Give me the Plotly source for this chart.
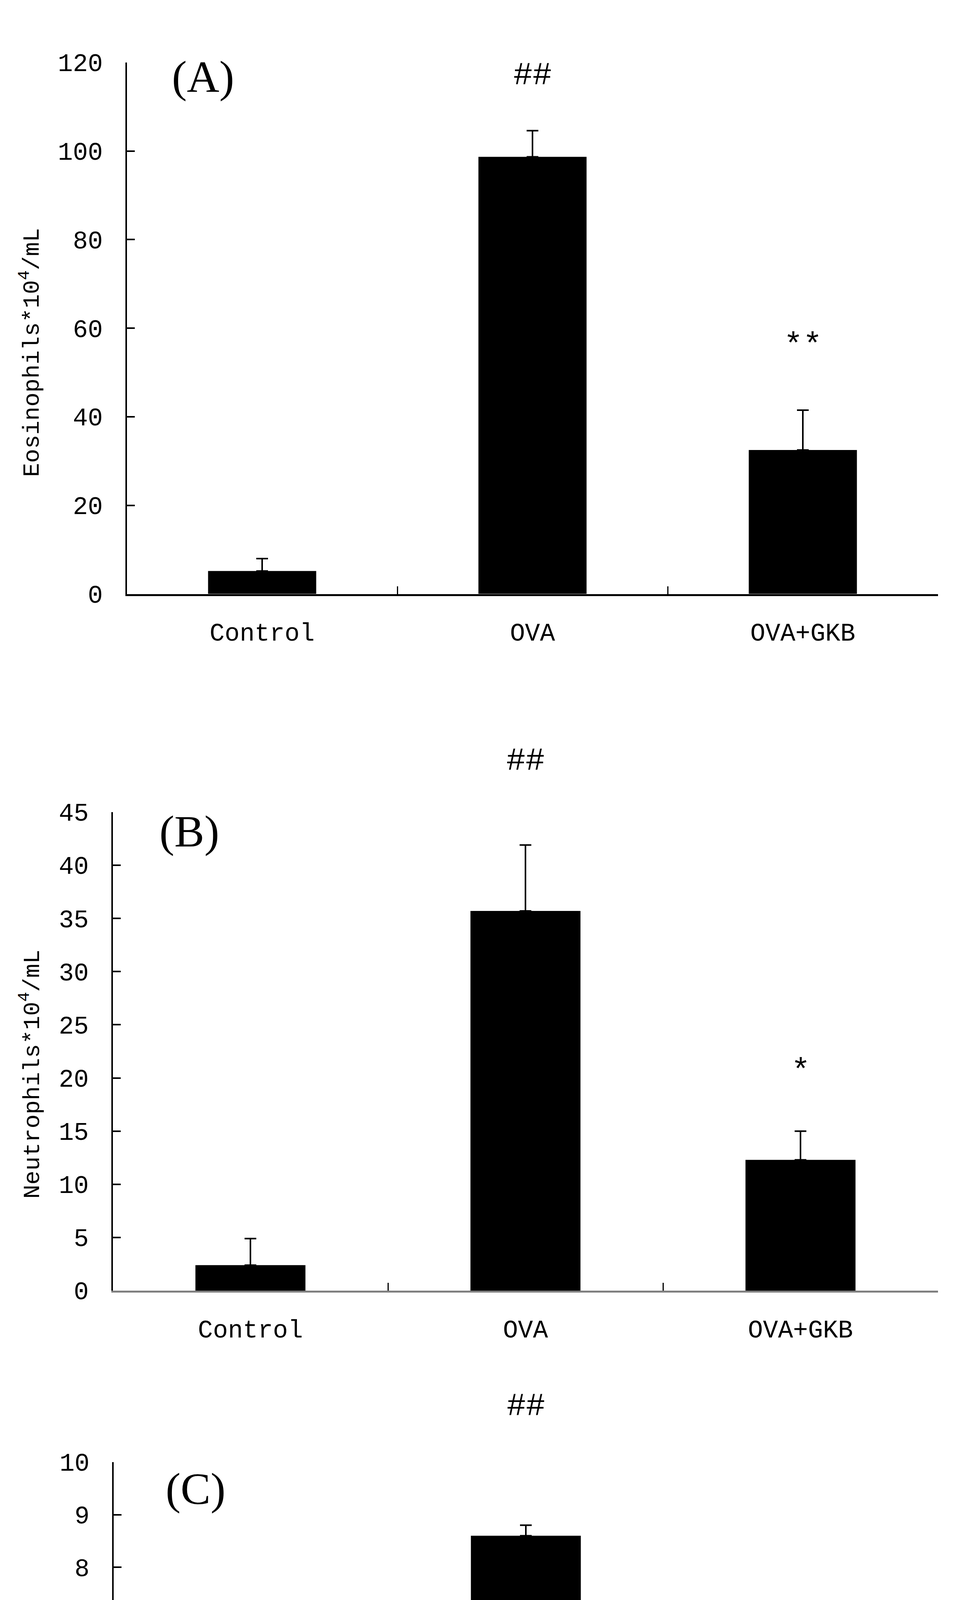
import plotly.graph_objects as go

# ---- data ----
groups = ["Control", "OVA", "OVA+GKB"]

eos_mean = [5.2, 98.7, 32.5]
eos_err = [2.8, 5.9, 9.0]

neu_mean = [2.4, 35.7, 12.3]
neu_err = [2.5, 6.2, 2.7]

mac_mean = [0.18, 8.6, 4.58]
mac_err = [0.0, 0.2, 0.66]

y_titles = ["Eosinophils*10<sup>4</sup>/mL",
            "Neutrophils*10<sup>4</sup>/mL",
            "Macrophagess*10<sup>4</sup>/mL"]
panel_labels = ["(A)", "(B)", "(C)"]
y_max = [120, 45, 10]
y_dticks = [20, 5, 1]

# significance marks: (text, group, y value in data units)
sig_A = [("##", "OVA", 117.0), ("**", "OVA+GKB", 56.0)]
sig_B = [("##", "OVA", 49.8), ("*", "OVA+GKB", 20.6)]
sig_C = [("##", "OVA", 11.05), ("*", "OVA+GKB", 5.95)]

W, H = 2488, 5302

# layout geometry (pixels)
x_domains = [[317 / W, 2393 / W], [281 / W, 2393 / W], [283 / W, 2393 / W]]
y_domains = [[1 - 1502 / H, 1 - 122.5 / H],
             [1 - 3310 / H, 1 - 2068 / H],
             [1 - 5123 / H, 1 - 3754.5 / H]]
title_pos = [(70 / W, 1 - 876 / H), (70 / W, 1 - 2749 / H), (76 / W, 1 - 4502 / H)]
label_pos = [(512 / W, 1 - 160 / H), (476 / W, 1 - 2118 / H), (492 / W, 1 - 3824 / H)]
xline_colors = ["black", "#808080", "black"]

MONO = "Liberation Mono"
SERIF = "Liberation Serif"

fig = go.Figure()

means = [eos_mean, neu_mean, mac_mean]
errs = [eos_err, neu_err, mac_err]
sigs = [sig_A, sig_B, sig_C]

annotations = []
for i in range(3):
    xa = "x" if i == 0 else f"x{i+1}"
    ya = "y" if i == 0 else f"y{i+1}"
    fig.add_trace(go.Bar(
        x=groups, y=means[i],
        xaxis=xa, yaxis=ya,
        marker=dict(color="black", line=dict(width=0)),
        width=0.4,
        error_y=dict(type="data", array=errs[i], arrayminus=[0] * 3,
                     symmetric=False, color="black", thickness=4, width=15),
        showlegend=False,
    ))
    xkey = "xaxis" if i == 0 else f"xaxis{i+1}"
    ykey = "yaxis" if i == 0 else f"yaxis{i+1}"
    fig.layout[xkey] = dict(
        domain=x_domains[i], anchor=ya, type="category",
        showline=True, linecolor=xline_colors[i], linewidth=5,
        ticks="inside", tickson="boundaries", ticklen=20, tickwidth=3,
        tickcolor="black", showgrid=False, zeroline=False,
        tickfont=dict(family=MONO, size=64, color="black"),
        ticklabelstandoff=38, range=[-0.5, 2.5],
    )
    fig.layout[ykey] = dict(
        domain=y_domains[i], anchor=xa,
        range=[0, y_max[i]], dtick=y_dticks[i], tick0=0,
        showline=True, linecolor="black", linewidth=4,
        ticks="inside", ticklen=20, tickwidth=4, tickcolor="black",
        showgrid=False, zeroline=False,
        tickfont=dict(family=MONO, size=64, color="black"),
        ticklabelstandoff=45,
    )
    # y-axis title
    annotations.append(dict(
        text=y_titles[i], xref="paper", yref="paper",
        x=title_pos[i][0], y=title_pos[i][1], textangle=-90,
        showarrow=False, xanchor="center", yanchor="middle",
        font=dict(family=MONO, size=60, color="black"),
    ))
    # panel label
    annotations.append(dict(
        text=panel_labels[i], xref="paper", yref="paper",
        x=label_pos[i][0], y=label_pos[i][1],
        showarrow=False, xanchor="center", yanchor="middle",
        font=dict(family=SERIF, size=115, color="black"),
    ))
    # significance marks (placed in axis-domain units so marks above the range still show)
    for txt, g, yv in sigs[i]:
        annotations.append(dict(
            text=txt, xref=xa, yref=f"{ya} domain", x=g, y=yv / y_max[i],
            showarrow=False, xanchor="center", yanchor="middle",
            font=dict(family=MONO, size=82, color="black"),
        ))

fig.update_layout(
    width=W, height=H,
    margin=dict(l=0, r=0, t=0, b=0),
    paper_bgcolor="white", plot_bgcolor="white",
    annotations=annotations,
    bargap=0.6,
)

fig.write_html("out.html")
